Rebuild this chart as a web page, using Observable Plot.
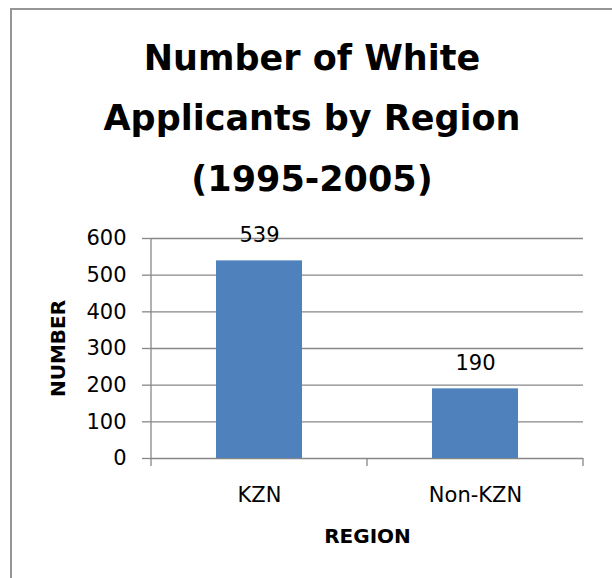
<!DOCTYPE html>
<html><head><meta charset="utf-8">
<script src="https://cdn.jsdelivr.net/npm/d3@7"></script>
<script src="https://cdn.jsdelivr.net/npm/@observablehq/plot@0.6"></script>
<style>
body{margin:0;background:#fff;}
#wrap{position:relative;width:612px;height:578px;overflow:hidden;background:#fff;}
#frame{position:absolute;left:10px;top:7.5px;width:700px;height:700px;border-left:2px solid #969696;border-top:2px solid #969696;}
#title{position:absolute;left:62px;top:27.5px;width:500px;text-align:center;font:700 35px "DejaVu Sans";line-height:60.5px;color:#000;}
#chart{position:absolute;left:0;top:215px;}
</style></head><body>
<div id="wrap"><div id="frame"></div><div id="title"></div><div id="chart"></div></div>
<script>
const titleLines = ["Number of White", "Applicants by Region", "(1995-2005)"];
const regions = ["KZN", "Non-KZN"];
const applicants = [539, 190];
const yTicks = [0, 100, 200, 300, 400, 500, 600];
const yLabel = "NUMBER";
const xLabel = "REGION";

document.getElementById("title").innerHTML = titleLines.join("<br>");
const data = regions.map((r, i) => ({region: r, value: applicants[i]}));
const grey = "#878787";

const chart = Plot.plot({
  width: 612, height: 363,
  marginLeft: 151, marginRight: 29, marginTop: 23, marginBottom: 120,
  style: {fontFamily: "DejaVu Sans", fontSize: "21px", color: "black", background: "transparent", overflow: "visible"},
  x: {domain: regions, paddingInner: 0.6, paddingOuter: 0.3},
  y: {domain: [0, 600]},
  marks: [
    Plot.gridY(yTicks, {stroke: grey, strokeOpacity: 1, strokeWidth: 1.3}),
    Plot.axisY(yTicks, {tickSize: 9, tickPadding: 16, stroke: grey, strokeWidth: 1.3, label: null, fill: "black"}),
    Plot.axisX({tickSize: 0, tickPadding: 29, label: null, fill: "black"}),
    Plot.barY(data, {x: "region", y: "value", fill: "#4F81BD"}),
    Plot.text(data, {x: "region", y: "value", text: d => String(d.value), dy: -25.2, fill: "black"}),
    Plot.text([yLabel], {frameAnchor: "left", textAnchor: "middle", lineAnchor: "middle", text: d => d, rotate: -90, dx: -92.6, fontWeight: "bold", fontSize: 20, fill: "black"}),
    Plot.text([xLabel], {frameAnchor: "bottom", textAnchor: "middle", lineAnchor: "middle", text: d => d, dy: 77.6, fontWeight: "bold", fontSize: 20, fill: "black"})
  ]
});
document.getElementById("chart").appendChild(chart);

// category boundary ticks and vertical axis line, placed from Plot's own scales
const xs = chart.scale("x"), ys = chart.scale("y");
const first = xs.apply(regions[0]) - (xs.step - xs.bandwidth) / 2;
const bounds = d3.range(regions.length + 1).map(i => first + i * xs.step);
const yTop = ys.apply(yTicks[yTicks.length - 1]), yBot = ys.apply(0);
const g = d3.select(chart).append("g").attr("stroke", grey).attr("stroke-width", 1.3);
g.append("line").attr("x1", first).attr("x2", first).attr("y1", yTop).attr("y2", yBot);
bounds.forEach(b => g.append("line").attr("x1", b).attr("x2", b).attr("y1", yBot).attr("y2", yBot + 8));
</script>
</body></html>
